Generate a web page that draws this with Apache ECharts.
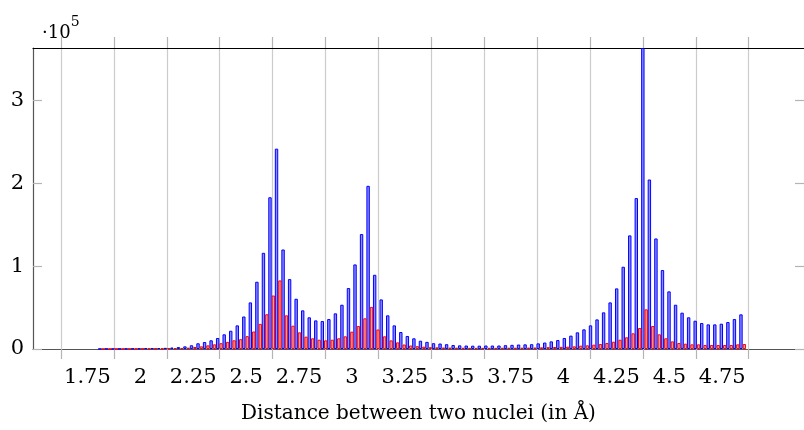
<!DOCTYPE html>
<html>
<head>
<meta charset="utf-8">
<script src="https://cdn.jsdelivr.net/npm/echarts@6/dist/echarts.min.js"></script>
<style>
  html, body { margin: 0; padding: 0; background: #fff; }
  #chart { width: 804px; height: 430px; }
</style>
</head>
<body>
<div id="chart"></div>
<script>
// histogram bins (distance in Å), first bin centre and bin width
const BIN_FIRST = 1.8169;
const BIN_WIDTH = 0.030914;

// counts per bin
const blueCounts = [
  200, 300, 300, 400, 500, 600, 700, 900, 1000, 1200, 1400, 1800, 2300,
  3200, 4500, 6900, 8400, 10500, 13300, 17700, 22000,
  28500, 39200, 56200, 81100, 116000, 183000, 241600,
  120000, 84300, 60600, 46600, 38200, 34500, 33700, 36100, 43000, 53400, 73500, 102000, 138600, 196800,
  89500, 59800, 40600, 28500, 20500, 15700, 12900, 10000, 8600,
  7000, 6600, 5800, 4800, 4400, 4200, 4000, 4000, 4200, 4200, 4200, 4600, 5000, 5400, 5600, 5800, 6800, 7800, 9200, 10800,
  13300, 16100, 20100, 23700, 28500, 35700, 44200, 56200, 73100, 99200, 137000, 182000, 363000,
  204400, 133300, 95200, 69500, 53400, 43800, 38200, 34100, 31300, 29700, 29700, 30500, 32500, 36100, 41800
];
const redCounts = [
  100, 200, 200, 300, 300, 400, 500, 600, 700, 800, 900, 1100, 1300,
  1600, 2400, 3200, 4400, 5600, 7000, 8600, 10500,
  11800, 15500, 21100, 30300, 41900, 64500, 82700,
  40600, 28100, 20100, 14900, 12900, 11200, 10400, 11200, 12900, 15300, 20900, 27700, 37000, 50800,
  23500, 15300, 10400, 8000, 5400, 4200, 3400, 2800, 2200,
  2000, 1800, 1700, 1600, 1500, 1400, 1400, 1400, 1400, 1400, 1500, 1500, 1600, 1600, 1700, 1800, 2000, 2200, 2400, 2600,
  2800, 3200, 4000, 4400, 5200, 6000, 7200, 8800, 11200, 14100, 18900, 25300, 47800,
  27700, 17700, 12900, 9200, 7200, 6400, 5600, 5600, 4800, 4800, 4800, 4800, 4800, 5600, 6000
];

// axis labels and grid positions
const labelValues = [1.75, 2, 2.25, 2.5, 2.75, 3, 3.25, 3.5, 3.75, 4, 4.25, 4.5, 4.75];
const gridValues = [1.625, 1.875, 2.125, 2.375, 2.625, 2.875, 3.125, 3.375, 3.625, 3.875, 4.125, 4.375, 4.625, 4.875];
const yTicks = [0, 100000, 200000, 300000];

const X_MIN = 1.49267;
const X_MAX = 5.13634;
const Y_MAX = 363000;

const binCenters = blueCounts.map((_, i) => BIN_FIRST + i * BIN_WIDTH);

const FONT = "DejaVu Serif";
const chart = echarts.init(document.getElementById("chart"));

const option = {
  animation: false,
  grid: { left: 33, right: 0, top: 48, bottom: 81 },
  xAxis: [
    {
      type: "value",
      position: "bottom",
      min: X_MIN,
      max: X_MAX,
      axisLine: { show: true, onZero: false, lineStyle: { color: "#555", width: 1.2 } },
      axisTick: { show: true, inside: false, length: 10, customValues: gridValues, lineStyle: { color: "#b4b4b4", width: 1.2 } },
      axisLabel: {
        customValues: labelValues,
        formatter: (v) => String(v),
        margin: 18,
        fontFamily: FONT,
        fontSize: 21,
        color: "#000",
      },
      splitLine: { show: true, lineStyle: { color: "#cccccc", width: 1.2 } },
      name: "Distance between two nuclei (in Å)",
      nameLocation: "middle",
      nameGap: 55,
      nameTextStyle: { fontFamily: FONT, fontSize: 20, color: "#000" },
    },
    {
      type: "value",
      position: "top",
      min: X_MIN,
      max: X_MAX,
      axisLine: { show: true, onZero: false, lineStyle: { color: "#000", width: 1.2 } },
      axisTick: { show: true, inside: false, length: 11, customValues: gridValues, lineStyle: { color: "#b4b4b4", width: 1.2 } },
      axisLabel: { show: false },
      splitLine: { show: false },
    },
  ],
  yAxis: [
    {
      type: "value",
      position: "left",
      min: 0,
      max: Y_MAX,
      axisLine: { show: true, onZero: false, lineStyle: { color: "#555", width: 1.2 } },
      axisTick: { show: true, inside: true, length: 9, customValues: yTicks, lineStyle: { color: "#b4b4b4", width: 1.2 } },
      axisLabel: {
        customValues: yTicks,
        formatter: (v) => String(v / 100000),
        margin: 9,
        fontFamily: FONT,
        fontSize: 21,
        color: "#000",
      },
      splitLine: { show: false },
      name: "{a|·10}{b|5}",
      nameLocation: "end",
      nameGap: -3,
      nameTextStyle: {
        align: "left",
        padding: [0, 0, 0, 9],
        rich: {
          a: { fontFamily: FONT, fontSize: 18, color: "#000", lineHeight: 36 },
          b: { fontFamily: FONT, fontSize: 14, color: "#000", lineHeight: 10, verticalAlign: "top" },
        },
      },
    },
    {
      type: "value",
      position: "right",
      min: 0,
      max: Y_MAX,
      axisLine: { show: false },
      axisTick: { show: true, inside: true, length: 9, customValues: yTicks, lineStyle: { color: "#b4b4b4", width: 1.2 } },
      axisLabel: { show: false },
      splitLine: { show: false },
    },
  ],
  series: [
    {
      type: "bar",
      xAxisIndex: 0,
      yAxisIndex: 0,
      data: binCenters.map((x, i) => [x, blueCounts[i]]),
      barWidth: 3.4,
      barGap: "0%",
      itemStyle: { color: "#8c8cff", borderColor: "#0000ff", borderWidth: 1 },
    },
    {
      type: "bar",
      xAxisIndex: 0,
      yAxisIndex: 0,
      data: binCenters.map((x, i) => [x, redCounts[i]]),
      barWidth: 3.4,
      barGap: "0%",
      itemStyle: { color: "#ff9c9c", borderColor: "#ff0000", borderWidth: 1 },
    },
  ],
};

chart.setOption(option);
</script>
</body>
</html>
